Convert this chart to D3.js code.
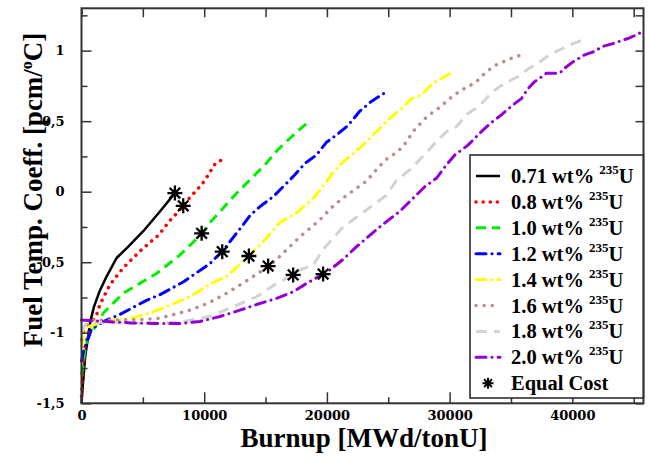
<!DOCTYPE html>
<html>
<head>
<meta charset="utf-8">
<script src="https://cdn.jsdelivr.net/npm/d3@7"></script>
<style>
  body { margin: 0; background: #fff; }
  text { font-family: "Liberation Serif", serif; font-weight: bold; fill: #000; }
  .tick text { font-family: "DejaVu Serif", serif; font-weight: bold; font-size: 13px; }
</style>
</head>
<body>
<div id="chart"></div>
<script>
// enrichment series: [burnup MWd/tonU, coefficient pcm/C]
var s071 = [[0,-1.5],[100,-1.38],[300,-1.17],[700,-0.93],[1000,-0.82],[1500,-0.70],[2050,-0.60],[2860,-0.47],[3810,-0.39],[5030,-0.28],[6390,-0.14],[7610,-0.01]];
var s08 = [[0,-1.45],[100,-1.3],[300,-1.1],[700,-0.95],[1240,-0.87],[1500,-0.80],[1910,-0.73],[2320,-0.66],[3400,-0.54],[4900,-0.41],[6250,-0.31],[7260,-0.20],[7800,-0.15],[8290,-0.10],[8890,-0.035],[9460,0.017],[9970,0.07],[10410,0.13],[10870,0.195],[11500,0.23]];
var s10 = [[0,-1.3],[290,-1.12],[550,-1.03],[1100,-0.96],[1780,-0.86],[3400,-0.72],[6120,-0.58],[8000,-0.45],[9790,-0.30],[10460,-0.22],[11410,-0.13],[12500,-0.023],[13720,0.083],[14940,0.19],[16030,0.30],[17250,0.40],[18550,0.50]];
var s12 = [[0,-1.2],[200,-1.12],[420,-1.07],[830,-0.97],[2050,-0.91],[3130,-0.87],[5300,-0.77],[6390,-0.73],[8290,-0.64],[10460,-0.51],[11500,-0.42],[13040,-0.25],[13720,-0.17],[14540,-0.106],[15620,-0.035],[16430,0.035],[17390,0.12],[18200,0.20],[19150,0.26],[19960,0.35],[20900,0.41],[21720,0.47],[22670,0.57],[23620,0.64],[24700,0.70]];
var s14 = [[0,-1.1],[150,-1.02],[500,-0.96],[1780,-0.92],[3950,-0.90],[5580,-0.86],[6930,-0.815],[8830,-0.745],[10600,-0.65],[11820,-0.60],[12090,-0.58],[13640,-0.455],[14530,-0.38],[16160,-0.22],[17520,-0.15],[19010,-0.035],[20380,0.12],[21190,0.20],[22130,0.27],[22820,0.32],[23630,0.39],[24440,0.46],[25120,0.52],[26070,0.59],[26900,0.66],[27700,0.685],[28650,0.77],[29600,0.815],[30280,0.85]];
var s16 = [[0,-1.05],[300,-0.95],[1000,-0.91],[3000,-0.91],[5000,-0.905],[6120,-0.90],[7340,-0.875],[8830,-0.84],[10330,-0.79],[11820,-0.72],[13310,-0.64],[14530,-0.57],[15270,-0.53],[16500,-0.43],[17790,-0.32],[19420,-0.20],[20640,-0.09],[21860,-0.01],[23220,0.075],[24170,0.17],[24850,0.23],[25530,0.27],[26200,0.32],[27150,0.44],[28240,0.54],[28920,0.58],[29600,0.63],[30280,0.68],[30960,0.72],[31640,0.75],[32300,0.79],[32940,0.845],[33590,0.89],[34350,0.92],[35030,0.945],[35850,0.97]];
var s18 = [[0,-1.0],[300,-0.94],[1000,-0.925],[6390,-0.935],[8290,-0.92],[10460,-0.885],[12360,-0.815],[14260,-0.745],[15900,-0.65],[17200,-0.59],[17790,-0.555],[18880,-0.52],[19690,-0.41],[21320,-0.25],[23220,-0.13],[24850,-0.025],[25670,0.08],[26750,0.155],[27830,0.25],[28920,0.355],[29740,0.425],[30550,0.46],[31500,0.555],[32450,0.61],[33530,0.71],[34080,0.745],[34980,0.79],[35570,0.815],[36380,0.87],[37330,0.92],[38150,0.97],[38960,1.005],[40050,1.05],[40860,1.075]];
var s20 = [[0,-0.91],[1000,-0.915],[2000,-0.92],[4000,-0.93],[6390,-0.935],[8020,-0.935],[9650,-0.92],[11280,-0.885],[12910,-0.84],[14260,-0.80],[15900,-0.756],[17250,-0.71],[18340,-0.65],[19690,-0.584],[20230,-0.555],[21320,-0.48],[22410,-0.39],[24300,-0.25],[25930,-0.14],[27970,0.035],[28920,0.095],[29740,0.19],[30420,0.26],[31500,0.33],[32450,0.414],[33260,0.48],[34220,0.545],[35160,0.615],[35850,0.66],[36380,0.73],[36930,0.78],[37600,0.82],[37880,0.84],[38960,0.84],[39370,0.875],[40050,0.92],[41000,0.97],[41680,0.99],[42490,1.03],[43300,1.05],[44670,1.09],[45620,1.13]];
var equalCost = [[7610,-0.01],[8290,-0.10],[9790,-0.295],[11470,-0.425],[13640,-0.456],[15210,-0.527],[17250,-0.59],[19690,-0.584]];

var labels = ["0.71", "0.8", "1.0", "1.2", "1.4", "1.6", "1.8", "2.0"];
var xTicks = [0, 10000, 20000, 30000, 40000];
var yTicks = [-1.5, -1, -0.5, 0, 0.5, 1];

var series = [
  {data: s071, color: "#000000", dash: null, width: 2.5, cap: "butt"},
  {data: s08, color: "#ff0000", dash: "0.1,7", width: 3.5, cap: "round"},
  {data: s10, color: "#00ee00", dash: "10,6", width: 3, cap: "butt"},
  {data: s12, color: "#0000ff", dash: "10,6,0.1,6", width: 3, cap: "round"},
  {data: s14, color: "#ffff00", dash: "10,6,0.1,6", width: 3, cap: "round"},
  {data: s16, color: "#bc8f8f", dash: "0.1,8", width: 3.5, cap: "round"},
  {data: s18, color: "#d3d3d3", dash: "11,7", width: 3, cap: "butt"},
  {data: s20, color: "#9400d3", dash: "10,6,0.1,6", width: 3, cap: "round"}
];

var w = 651, h = 457;
var pLeft = 81.5, pRight = 643.5, pTop = 8.3, pBottom = 403.3;

var svg = d3.select("#chart").append("svg").attr("width", w).attr("height", h);

var x = d3.scaleLinear().domain([0, 45800]).range([pLeft, pRight]);
var y = d3.scaleLinear().domain([-1.5, 1.3]).range([pBottom, pTop]);

var line = d3.line().x(d => x(d[0])).y(d => y(d[1]));

svg.append("g").selectAll("path")
  .data(series)
  .enter()
  .append("path")
  .attr("d", d => line(d.data))
  .attr("fill", "none")
  .attr("stroke", d => d.color)
  .attr("stroke-width", d => d.width)
  .attr("stroke-dasharray", d => d.dash)
  .attr("stroke-linecap", d => d.cap)
  .attr("stroke-linejoin", "round");

function star(g, r, sw) {
  var p = "";
  for (var i = 0; i < 4; i++) {
    var a = i * Math.PI / 4;
    p += "M" + (-r * Math.cos(a)) + "," + (-r * Math.sin(a)) + "L" + (r * Math.cos(a)) + "," + (r * Math.sin(a));
  }
  g.append("path").attr("d", p).attr("stroke", "#000").attr("stroke-width", sw).attr("fill", "none");
  g.append("circle").attr("r", 2.5).attr("fill", "#000");
}

svg.append("g").selectAll("g")
  .data(equalCost)
  .enter()
  .append("g")
  .attr("transform", d => `translate(${x(d[0])},${y(d[1])})`)
  .each(function() { star(d3.select(this), 7.5, 2.3); });

// axes, ticks point inwards on all four sides
var minorX = d3.range(5000, 45001, 10000);
var minorY = d3.range(-1.25, 1.3, 0.5);

svg.append("g")
  .attr("transform", `translate(0,${pBottom})`)
  .call(d3.axisBottom(x).tickValues(xTicks).tickSize(-11).tickPadding(7).tickFormat(d3.format("d")));
svg.append("g")
  .attr("transform", `translate(0,${pBottom})`)
  .call(d3.axisBottom(x).tickValues(minorX).tickSize(-6).tickFormat(""));
svg.append("g")
  .attr("transform", `translate(0,${pTop})`)
  .call(d3.axisTop(x).tickValues(xTicks.concat(minorX)).tickSize(-9).tickFormat(""));

svg.append("g")
  .attr("transform", `translate(${pLeft},0)`)
  .call(d3.axisLeft(y).tickValues(yTicks).tickSize(-10).tickPadding(17).tickFormat(d => String(d).replace(".", ",")));
svg.append("g")
  .attr("transform", `translate(${pLeft},0)`)
  .call(d3.axisLeft(y).tickValues(minorY).tickSize(-6).tickFormat(""));
svg.append("g")
  .attr("transform", `translate(${pRight},0)`)
  .call(d3.axisRight(y).tickValues(yTicks.concat(minorY)).tickSize(-8).tickFormat(""));

svg.selectAll(".domain").attr("stroke", "none");
svg.selectAll(".tick line").attr("stroke", "#333").attr("stroke-width", 1.5);

// legend
var lg = svg.append("g");
lg.append("rect")
  .attr("x", 470).attr("y", 155).attr("width", pRight - 470).attr("height", 243)
  .attr("fill", "#fff").attr("stroke", "#222").attr("stroke-width", 1.5);

var rows = lg.selectAll("g.row")
  .data(series)
  .enter()
  .append("g")
  .attr("transform", (d, i) => `translate(0,${176 + i * 25.9})`);

rows.append("line")
  .attr("x1", 476).attr("x2", 500)
  .attr("stroke", d => d.color)
  .attr("stroke-width", d => d.width)
  .attr("stroke-dasharray", d => d.dash)
  .attr("stroke-linecap", d => d.cap);

var txt = rows.append("text").attr("x", 511).attr("y", 7).style("font-size", "20.5px");
txt.append("tspan").text((d, i) => labels[i] + " wt% ");
txt.append("tspan").attr("dy", -9).style("font-size", "13px").text("235");
txt.append("tspan").attr("dy", 9).text("U");

var ec = lg.append("g").attr("transform", `translate(0,${176 + 8 * 25.9})`);
star(ec.append("g").attr("transform", "translate(488,0)"), 5.5, 2);
ec.append("text").attr("x", 511).attr("y", 7).style("font-size", "20.5px").text("Equal Cost");

// frame
svg.append("rect")
  .attr("x", pLeft).attr("y", pTop).attr("width", pRight - pLeft).attr("height", pBottom - pTop)
  .attr("fill", "none").attr("stroke", "#333").attr("stroke-width", 2);

// axis titles
svg.append("text")
  .attr("x", 364).attr("y", 447)
  .attr("text-anchor", "middle")
  .style("font-size", "27px")
  .text("Burnup [MWd/tonU]");

var yt = svg.append("text")
  .attr("transform", "translate(42,190) rotate(-90)")
  .attr("text-anchor", "middle")
  .style("font-size", "27px");
yt.append("tspan").text("Fuel Temp. Coeff. [pcm/");
yt.append("tspan").attr("dy", -10).style("font-size", "16px").text("o");
yt.append("tspan").attr("dy", 10).text("C]");
</script>
</body>
</html>
